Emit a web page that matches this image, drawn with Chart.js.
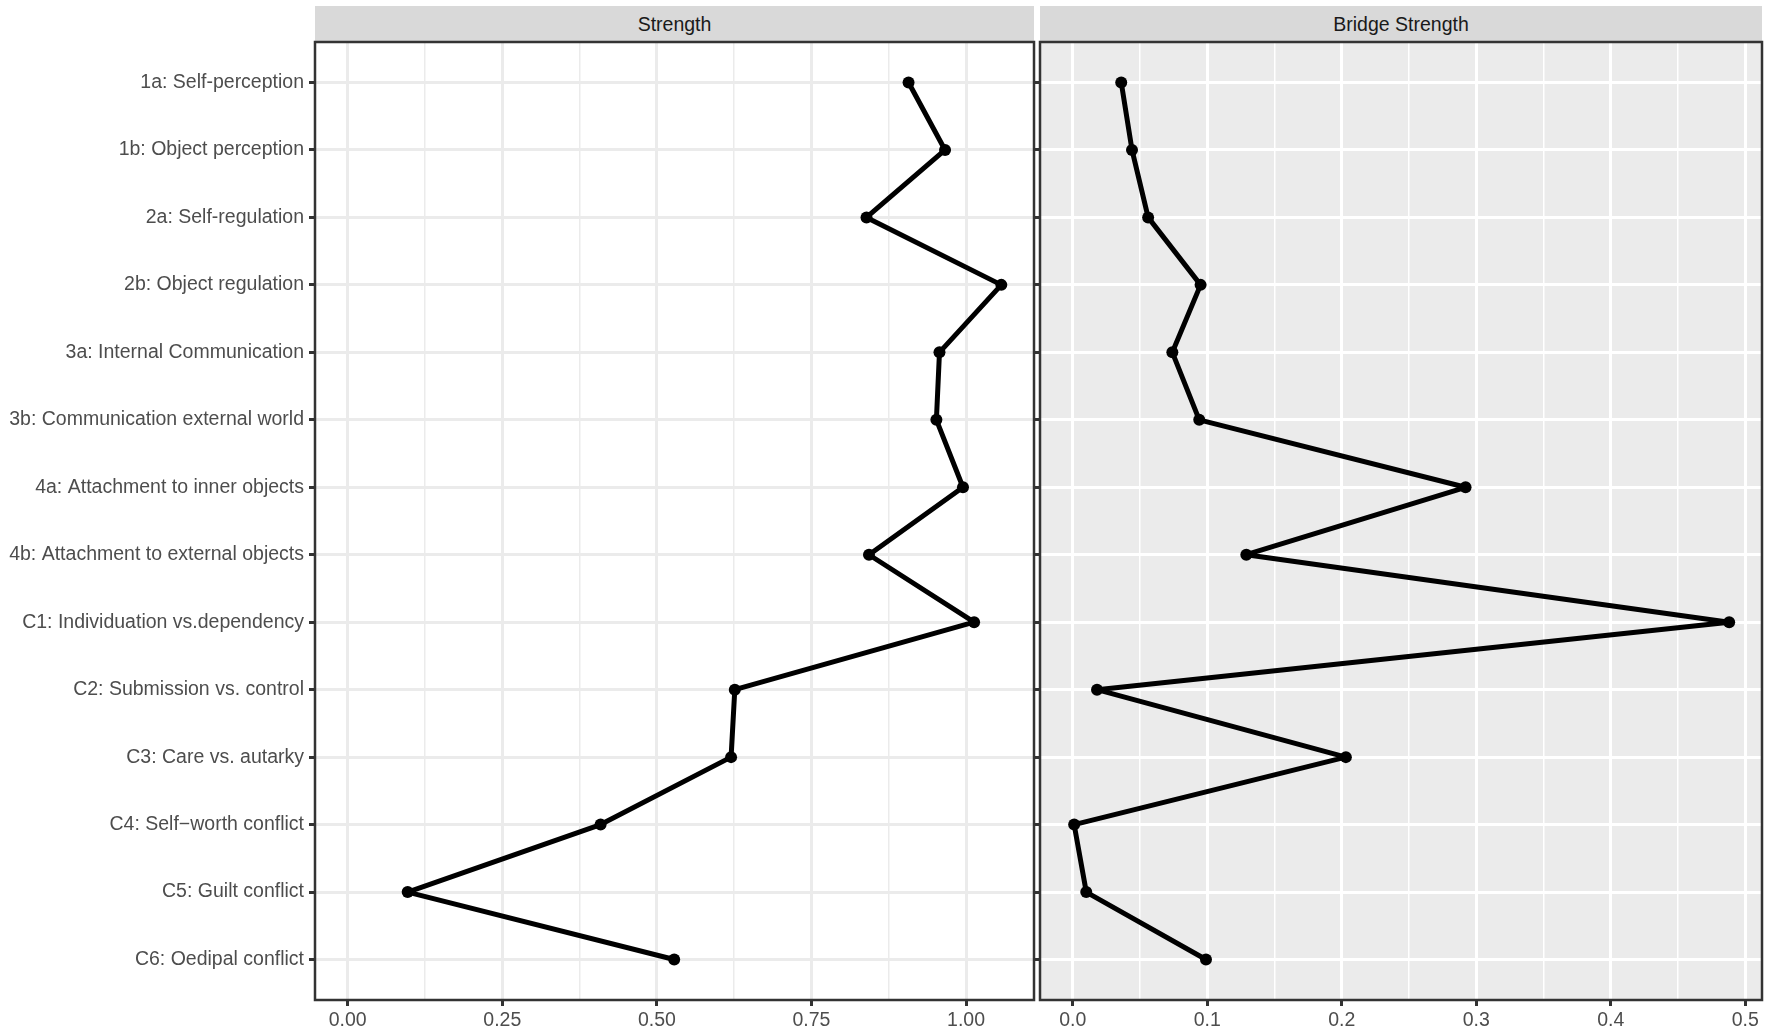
<!DOCTYPE html>
<html><head><meta charset="utf-8">
<script src="https://cdn.jsdelivr.net/npm/chart.js@4"></script>
<style>
html,body{margin:0;padding:0;background:#fff;width:1772px;height:1029px;overflow:hidden;}
#wrap{position:relative;width:1772px;height:1029px;}
canvas{position:absolute;top:0;}
.strip{position:absolute;top:6px;height:36px;background:#D9D9D9;color:#1A1A1A;font:19.5px "Liberation Sans",Arial,Helvetica,sans-serif;display:flex;align-items:center;justify-content:center;}
</style></head><body>
<div id="wrap">
<div class="strip" id="s1" style="left:315px;width:719px;"></div>
<div class="strip" id="s2" style="left:1040px;width:722px;"></div>
<canvas id="c1" width="1036" height="1029" style="left:0px"></canvas>
<canvas id="c2" width="738" height="1029" style="left:1034px"></canvas>
</div>
<script>
const categories = [
  '1a: Self-perception',
  '1b: Object perception',
  '2a: Self-regulation',
  '2b: Object regulation',
  '3a: Internal Communication',
  '3b: Communication external world',
  '4a: Attachment to inner objects',
  '4b: Attachment to external objects',
  'C1: Individuation vs.dependency',
  'C2: Submission vs. control',
  'C3: Care vs. autarky',
  'C4: Self\u2212worth conflict',
  'C5: Guilt conflict',
  'C6: Oedipal conflict'
];
const panelTitles = ['Strength', 'Bridge Strength'];
const strength = [0.907, 0.966, 0.839, 1.057, 0.957, 0.952, 0.995, 0.843, 1.013, 0.626, 0.620, 0.409, 0.097, 0.528];
const bridgeStrength = [0.036, 0.044, 0.056, 0.095, 0.074, 0.094, 0.292, 0.129, 0.488, 0.018, 0.203, 0.001, 0.010, 0.099];
const strengthTicks = [0, 0.25, 0.5, 0.75, 1];
const strengthTickLabels = ['0.00', '0.25', '0.50', '0.75', '1.00'];
const strengthMinor = [0.125, 0.375, 0.625, 0.875];
const bridgeTicks = [0, 0.1, 0.2, 0.3, 0.4, 0.5];
const bridgeTickLabels = ['0.0', '0.1', '0.2', '0.3', '0.4', '0.5'];
const bridgeMinor = [0.05, 0.15, 0.25, 0.35, 0.45];

document.getElementById('s1').textContent = panelTitles[0];
document.getElementById('s2').textContent = panelTitles[1];

const FONT = '"Liberation Sans", Arial, Helvetica, sans-serif';

const panelPlugin = {
  id: 'panel',
  beforeDraw(chart, args, opts) {
    if (opts.bg) {
      const a = chart.chartArea, ctx = chart.ctx;
      ctx.save();
      ctx.fillStyle = opts.bg;
      ctx.fillRect(a.left, a.top, a.right - a.left, a.bottom - a.top);
      ctx.restore();
    }
  },
  afterDraw(chart, args, opts) {
    const a = chart.chartArea, ctx = chart.ctx;
    ctx.save();
    ctx.strokeStyle = '#333333';
    ctx.lineWidth = 2.5;
    ctx.strokeRect(a.left, a.top, a.right - a.left, a.bottom - a.top);
    ctx.restore();
  }
};

function makeChart(canvas, values, cfg) {
  const data = values.map((v, i) => ({ x: v, y: i }));
  return new Chart(canvas, {
    type: 'line',
    data: { datasets: [{
      data,
      borderColor: '#000000',
      backgroundColor: '#000000',
      borderWidth: 5,
      borderJoinStyle: 'round',
      borderCapStyle: 'round',
      pointRadius: 6,
      pointBackgroundColor: '#000000',
      pointBorderWidth: 0,
      tension: 0
    }] },
    options: {
      responsive: false,
      animation: false,
      devicePixelRatio: 1,
      layout: { autoPadding: false, padding: { top: 42, right: cfg.padRight, left: 0, bottom: 0 } },
      plugins: { legend: { display: false }, tooltip: { enabled: false }, panel: { bg: cfg.bg } },
      scales: {
        x: {
          type: 'linear', position: 'bottom', min: cfg.min, max: cfg.max,
          afterBuildTicks(s) { s.ticks = cfg.major.concat(cfg.minor).sort((a, b) => a - b).map(v => ({ value: v })); },
          afterFit(s) { s.height = 29; },
          ticks: {
            autoSkip: false, maxRotation: 0, padding: 3, color: '#4D4D4D',
            font: { family: FONT, size: 19.5 },
            callback(v) { const k = cfg.major.indexOf(v); return k >= 0 ? cfg.labels[k] : ''; }
          },
          grid: {
            color: cfg.grid,
            lineWidth(ctx) { return (ctx.tick && cfg.major.includes(ctx.tick.value)) ? 3 : 1.5; },
            tickLength: 6, tickWidth: 3,
            tickColor(ctx) { return (ctx.tick && cfg.major.includes(ctx.tick.value)) ? '#333333' : 'rgba(0,0,0,0)'; }
          },
          border: { display: false }
        },
        y: {
          type: 'linear', min: -0.6, max: categories.length - 0.4, reverse: true,
          afterBuildTicks(s) { s.ticks = categories.map((c, i) => ({ value: i })); },
          afterFit(s) { s.width = cfg.yWidth; },
          ticks: {
            display: cfg.showLabels, autoSkip: false, padding: 5, color: '#4D4D4D',
            font: { family: FONT, size: 19.5 },
            callback(v) { return categories[v]; }
          },
          grid: { color: cfg.grid, lineWidth: 3, tickLength: 6, tickWidth: 3, tickColor: '#333333' },
          border: { display: false }
        }
      }
    },
    plugins: [panelPlugin]
  });
}

makeChart(document.getElementById('c1'), strength, {
  min: -0.05285, max: 1.10985, major: strengthTicks, minor: strengthMinor, labels: strengthTickLabels,
  grid: '#EBEBEB', bg: null, yWidth: 315, padRight: 2, showLabels: true
});
makeChart(document.getElementById('c2'), bridgeStrength, {
  min: -0.0244, max: 0.5124, major: bridgeTicks, minor: bridgeMinor, labels: bridgeTickLabels,
  grid: '#FFFFFF', bg: '#EBEBEB', yWidth: 6, padRight: 10, showLabels: false
});
</script>
</body></html>
